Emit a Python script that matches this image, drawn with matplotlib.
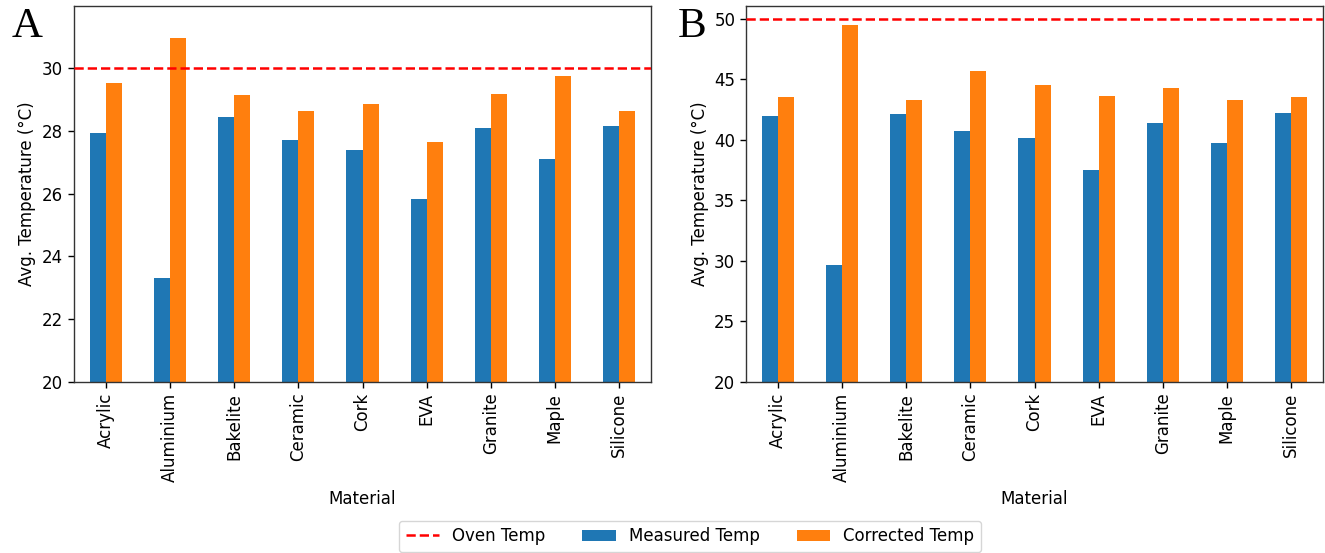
import matplotlib
matplotlib.use("Agg")
import matplotlib.pyplot as plt
import numpy as np

materials = ["Acrylic", "Aluminium", "Bakelite", "Ceramic", "Cork",
             "EVA", "Granite", "Maple", "Silicone"]

# Panel A: 30 °C oven
oven_a = 30.0
measured_a = [27.94, 23.32, 28.43, 27.71, 27.38, 25.84, 28.10, 27.10, 28.15]
corrected_a = [29.52, 30.95, 29.13, 28.64, 28.86, 27.66, 29.19, 29.74, 28.64]

# Panel B: 50 °C oven
oven_b = 50.0
measured_b = [41.94, 29.69, 42.10, 40.68, 40.12, 37.54, 41.39, 39.69, 42.21]
corrected_b = [43.51, 49.51, 43.24, 45.66, 44.50, 43.65, 44.25, 43.26, 43.53]

BLUE = "#1f77b4"
ORANGE = "#ff7f0e"
FS = 12

plt.rcParams["font.family"] = "DejaVu Sans"
plt.rcParams["axes.edgecolor"] = "#333333"

fig = plt.figure(figsize=(13.25, 5.53), dpi=100)
W, H = 1325, 553


def add_axes(left, right, top, bottom):
    return fig.add_axes([left / W, 1 - bottom / H, (right - left) / W, (bottom - top) / H])


ax_a = add_axes(74, 651, 6, 382)
ax_b = add_axes(746, 1323, 6, 382)


def draw_panel(ax, measured, corrected, oven, ylim, yticks, letter, letter_x):
    x = np.arange(len(materials))
    w = 0.25
    ax.axhline(oven, color="red", linestyle="--", linewidth=1.8, label="Oven Temp", zorder=3)
    ax.bar(x - w / 2, measured, width=w, color=BLUE, label="Measured Temp", zorder=2)
    ax.bar(x + w / 2, corrected, width=w, color=ORANGE, label="Corrected Temp", zorder=2)
    ax.set_xlim(-0.5, len(materials) - 0.5)
    ax.set_ylim(*ylim)
    ax.set_yticks(yticks)
    ax.set_xticks(x)
    ax.set_xticklabels(materials, rotation=90, fontsize=FS)
    ax.tick_params(axis="y", labelsize=FS, length=4.2, width=1.0)
    ax.tick_params(axis="x", length=4.2, width=1.0)
    for s in ax.spines.values():
        s.set_linewidth(1.0)
    ax.set_xlabel("Material", fontsize=FS, labelpad=6)
    ax.set_ylabel("Avg. Temperature (°C)", fontsize=FS)
    fig.text(letter_x / W, 1 - 37 / H, letter, fontsize=31,
             family="Liberation Serif", ha="left", va="baseline")


draw_panel(ax_a, measured_a, corrected_a, oven_a, (20, 31.98),
           [20, 22, 24, 26, 28, 30], "A", 12)
draw_panel(ax_b, measured_b, corrected_b, oven_b, (20, 51.04),
           [20, 25, 30, 35, 40, 45, 50], "B", 678)

handles, labels = ax_a.get_legend_handles_labels()
fig.legend(handles, labels, loc="lower center", ncol=3, fontsize=FS,
           bbox_to_anchor=(690 / W, 0.002), borderaxespad=0.0,
           columnspacing=2.2)

fig.savefig("out.png", dpi=100)
